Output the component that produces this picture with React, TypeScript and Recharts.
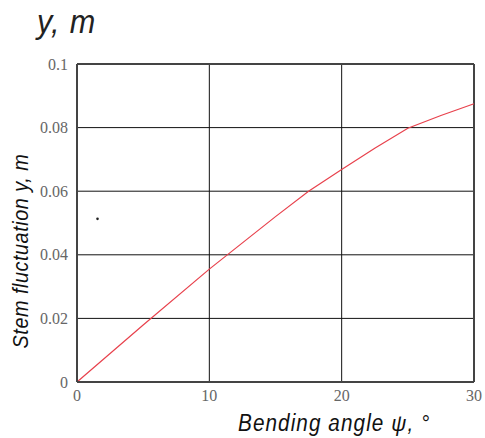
import {
  ComposedChart,
  Line,
  Scatter,
  XAxis,
  YAxis,
  CartesianGrid,
  ReferenceLine,
} from 'recharts';

// bending angle ψ, degrees
const angles = [0, 5, 10, 15, 17.5, 20, 22.5, 25, 27.5, 30];
// stem fluctuation y, m
const fluctuation = [0, 0.0179, 0.0355, 0.052, 0.06, 0.0668, 0.0735, 0.0798, 0.0838, 0.0875];
// the single stray point on the plot
const strayAngle = [1.55];
const strayValue = [0.0513];

const xTicks = [0, 10, 20, 30];
const yTicks = [0, 0.02, 0.04, 0.06, 0.08, 0.1];

const lineData = angles.map((a, i) => ({ psi: a, y: fluctuation[i] }));
const dotData = strayAngle.map((a, i) => ({ psi: a, y: strayValue[i] }));

const tickStyle = { fontSize: 16, fill: '#666', fontFamily: 'Liberation Serif, DejaVu Serif, serif' };
const labelFont = 'Liberation Sans, Arial, sans-serif';

export default function App() {
  return (
    <div style={{ position: 'absolute', left: 0, top: 0, width: 485, height: 438, background: '#fff', overflow: 'hidden' }}>
      <ComposedChart
        width={485}
        height={438}
        data={lineData}
        margin={{ top: 64, right: 11, left: 37, bottom: 26 }}
      >
        <CartesianGrid stroke="#111" strokeWidth={1} />
        <XAxis
          dataKey="psi"
          type="number"
          domain={[0, 30]}
          ticks={xTicks}
          tickLine={false}
          axisLine={{ stroke: '#444', strokeWidth: 2 }}
          tick={tickStyle}
          height={30}
          interval={0}
        />
        <YAxis
          type="number"
          domain={[0, 0.1]}
          ticks={yTicks}
          tickLine={false}
          axisLine={{ stroke: '#444', strokeWidth: 2 }}
          tick={tickStyle}
          width={40}
          tickMargin={3}
          interval={0}
        />
        <ReferenceLine x={30} stroke="#444" strokeWidth={2} />
        <ReferenceLine y={0.1} stroke="#444" strokeWidth={2} />
        <Line
          type="linear"
          dataKey="y"
          stroke="#e8414c"
          strokeWidth={1.2}
          dot={false}
          isAnimationActive={false}
        />
        <Scatter
          data={dotData}
          dataKey="y"
          fill="#222"
          shape={(p: { cx?: number; cy?: number }) => <circle cx={p.cx} cy={p.cy} r={1.3} fill="#222" />}
          isAnimationActive={false}
        />
      </ComposedChart>
      <div
        style={{
          position: 'absolute',
          left: 37,
          top: 2,
          fontFamily: labelFont,
          fontStyle: 'italic',
          fontSize: 34,
          letterSpacing: 1,
          transform: 'scaleX(0.9)',
          transformOrigin: 'left top',
          color: '#222',
          whiteSpace: 'nowrap',
        }}
      >
        y, m
      </div>
      <div
        style={{
          position: 'absolute',
          left: 21,
          top: 251,
          transform: 'translate(-50%, -50%) rotate(-90deg) scaleX(0.9)',
          fontFamily: labelFont,
          fontStyle: 'italic',
          fontSize: 22,
          letterSpacing: 0.6,
          color: '#111',
          whiteSpace: 'nowrap',
        }}
      >
        Stem fluctuation y, m
      </div>
      <div
        style={{
          position: 'absolute',
          left: 238,
          top: 410,
          fontFamily: labelFont,
          fontStyle: 'italic',
          fontSize: 23,
          letterSpacing: 1.2,
          transform: 'scaleX(0.9)',
          transformOrigin: 'left top',
          color: '#111',
          whiteSpace: 'nowrap',
        }}
      >
        Bending angle ψ, °
      </div>
    </div>
  );
}
